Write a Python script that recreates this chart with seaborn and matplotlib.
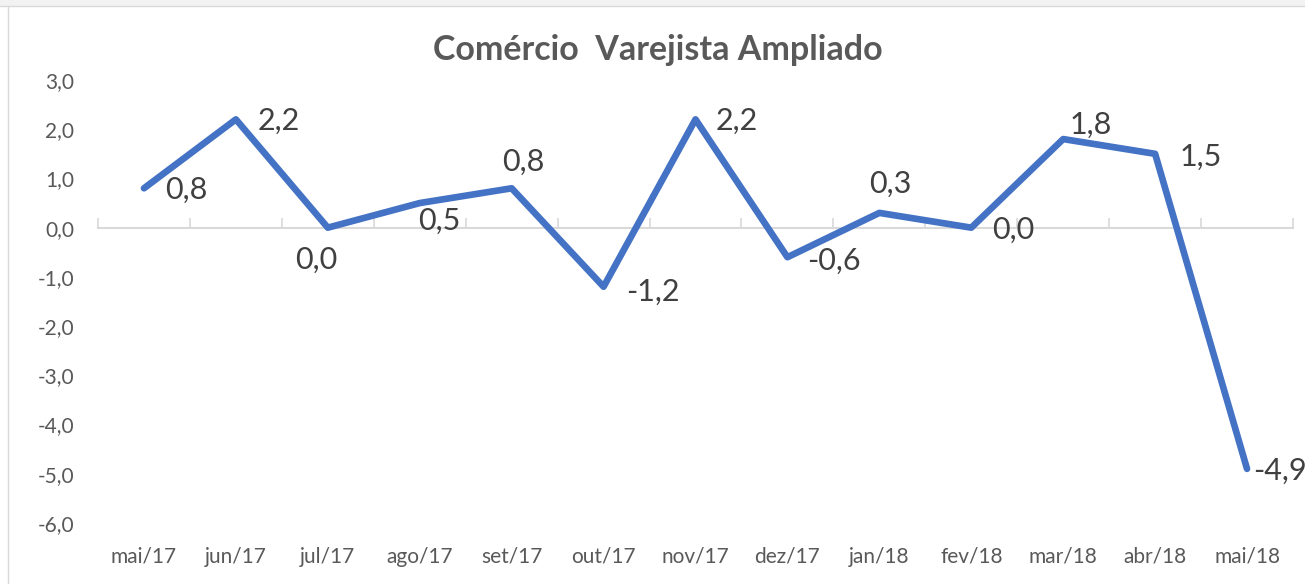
import numpy as np
import pandas as pd
import matplotlib
matplotlib.use("Agg")
import matplotlib.pyplot as plt
import seaborn as sns
from matplotlib.patches import Rectangle

categories = ["mai/17", "jun/17", "jul/17", "ago/17", "set/17", "out/17", "nov/17",
              "dez/17", "jan/18", "fev/18", "mar/18", "abr/18", "mai/18"]
values = [0.8, 2.2, 0.0, 0.5, 0.8, -1.2, 2.2, -0.6, 0.3, 0.0, 1.8, 1.5, -4.9]
y_ticks = [3, 2, 1, 0, -1, -2, -3, -4, -5, -6]
title = "Comércio  Varejista Ampliado"

# label offsets (pixels) - style only
label_offsets = [(21, 1), (22, 1), (-33, 32), (-2, 18), (-10, -27), (23, 5), (20, 1),
                 (20, 4), (-10, -29), (21, 2), (6, -14), (24, 3), (6, 2)]

sns.set_theme(style="white")
plt.rcParams['font.family'] = ['Lato', 'DejaVu Sans']

df = pd.DataFrame({"pos": np.arange(len(categories)), "valor": values})

fig = plt.figure(figsize=(13.05, 5.84), dpi=100)
ax = fig.add_axes([98/1305, 1 - 523/584, (1293 - 98)/1305, (523 - 80)/584])

# chart frame
fig.patches.append(Rectangle((0, 1 - 6/584), 1, 6/584, transform=fig.transFigure,
                             facecolor="#f2f2f2", edgecolor="none", zorder=0))
fig.lines.append(plt.Line2D([0, 1], [1 - 6/584, 1 - 6/584], transform=fig.transFigure,
                            color="#d9d9d9", lw=1))
fig.lines.append(plt.Line2D([8/1305, 8/1305], [0, 1 - 6/584], transform=fig.transFigure,
                            color="#d9d9d9", lw=1))

sns.lineplot(data=df, x="pos", y="valor", ax=ax, color="#4472C4", linewidth=4.8,
             solid_capstyle="round", solid_joinstyle="round", zorder=3)

ax.set_xlim(-0.5, len(categories) - 0.5)
ax.set_ylim(-6, 3)
ax.set_yticks(y_ticks)
ax.set_yticklabels([f"{v:.1f}".replace(".", ",") for v in y_ticks])
ax.set_xticks(np.arange(len(categories)))
ax.set_xticklabels(categories)
ax.tick_params(axis="y", length=0, pad=17, labelsize=15, labelcolor="#595959")
ax.tick_params(axis="x", length=0, pad=17, labelsize=15, labelcolor="#595959")
ax.set_xlabel("")
ax.set_ylabel("")
for s in ax.spines.values():
    s.set_visible(False)

# zero axis line with tick marks at category boundaries
sec = ax.secondary_xaxis(6/9)
sec.set_xticks(np.arange(len(categories) + 1) - 0.5)
sec.set_xticklabels([])
sec.tick_params(axis="x", direction="out", length=7, width=1.2, color="#d9d9d9")
for k, sp in sec.spines.items():
    if k == "top":
        sp.set_visible(True)
        sp.set_color("#d9d9d9")
        sp.set_linewidth(1.5)
    else:
        sp.set_visible(False)

for i, (v, (dx, dy)) in enumerate(zip(values, label_offsets)):
    ax.annotate(f"{v:.1f}".replace(".", ","), xy=(i, v), xytext=(dx, -dy),
                textcoords="offset pixels", ha="left", va="center",
                fontsize=22, color="#404040", zorder=4)

fig.text(658/1305, 1 - 50/584, title, ha="center", va="center", fontsize=24.5,
         fontweight="bold", color="#595959")

fig.savefig("out.png", dpi=100)
